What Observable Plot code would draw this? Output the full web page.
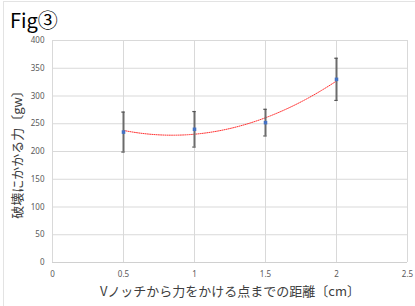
<!DOCTYPE html>
<html>
<head>
<meta charset="utf-8">
<script src="https://cdn.jsdelivr.net/npm/d3@7"></script>
<script src="https://cdn.jsdelivr.net/npm/@observablehq/plot@0.6"></script>
<style>
  body { margin: 0; background: #fff; }
  #wrap { position: relative; width: 415px; height: 306px; overflow: hidden; background: #fff; }
  #frame { position: absolute; left: 3px; top: 1px; width: 420px; height: 310px; border: 1px solid #e3e3e3; box-sizing: border-box; }
  #title { position: absolute; left: 10px; top: 8px; font: 20px "Noto Sans CJK JP", "Noto Sans", sans-serif; color: #000; line-height: 24px; z-index: 2; }
  svg { position: absolute; left: 0; top: 0; z-index: 1; }
</style>
</head>
<body>
<div id="wrap">
  <div id="frame"></div>
  <div id="title"></div>
</div>
<script>
const titleText = "Fig③";
const xLabel = "Vノッチから力をかける点までの距離〔cm〕";
const yLabel = "破壊にかかる力〔gw〕";
const distances = [0.5, 1, 1.5, 2];
const forces = [235, 240, 252, 330];
const errors = [36, 32, 24, 38];
const xTicks = [0, 0.5, 1, 1.5, 2, 2.5];
const yTicks = [0, 50, 100, 150, 200, 250, 300, 350, 400];

document.getElementById("title").textContent = titleText;

const data = distances.map((x, i) => ({x, y: forces[i], lo: forces[i] - errors[i], hi: forces[i] + errors[i]}));

// Quadratic least-squares trendline (like Excel's polynomial order 2)
function polyfit2(xs, ys) {
  let n = xs.length, sx=0, sx2=0, sx3=0, sx4=0, sy=0, sxy=0, sx2y=0;
  for (let i = 0; i < n; i++) {
    const x = xs[i], y = ys[i];
    sx += x; sx2 += x*x; sx3 += x*x*x; sx4 += x*x*x*x;
    sy += y; sxy += x*y; sx2y += x*x*y;
  }
  const A = [[n, sx, sx2, sy],[sx, sx2, sx3, sxy],[sx2, sx3, sx4, sx2y]];
  for (let i = 0; i < 3; i++) {
    for (let k = i+1; k < 3; k++) {
      const f = A[k][i] / A[i][i];
      for (let j = i; j < 4; j++) A[k][j] -= f * A[i][j];
    }
  }
  const c = [0,0,0];
  for (let i = 2; i >= 0; i--) {
    let s = A[i][3];
    for (let j = i+1; j < 3; j++) s -= A[i][j] * c[j];
    c[i] = s / A[i][i];
  }
  return c;
}
const coef = polyfit2(distances, forces);
const trend = d3.range(0, 101).map(i => {
  const x = distances[0] + (distances[distances.length-1] - distances[0]) * i / 100;
  return {x, y: coef[0] + coef[1]*x + coef[2]*x*x};
});

const font = '"Noto Sans", "Open Sans", sans-serif';
const cap = 0.012;

const chart = Plot.plot({
  width: 415,
  height: 306,
  marginLeft: 52,
  marginRight: 8,
  marginTop: 40,
  marginBottom: 44,
  style: {fontFamily: font, fontSize: "8px", color: "#595959", background: "transparent"},
  x: {domain: [0, 2.5], ticks: xTicks, tickSize: 0, tickPadding: 9, label: null, tickFormat: d => String(d)},
  y: {domain: [0, 400], ticks: yTicks, tickSize: 0, tickPadding: 8, label: null},
  marks: [
    Plot.gridX(xTicks, {stroke: "#d9d9d9", strokeOpacity: 1, strokeWidth: 1}),
    Plot.gridY(yTicks, {stroke: "#d9d9d9", strokeOpacity: 1, strokeWidth: 1}),
    Plot.ruleY([0], {stroke: "#d0d0d0", strokeWidth: 1}),
    Plot.line(trend, {x: "x", y: "y", stroke: "#ff0000", strokeWidth: 1, strokeDasharray: "1,1.2", strokeOpacity: 0.8}),
    Plot.ruleX(data, {x: "x", y1: "lo", y2: "hi", stroke: "#6b6b6b", strokeWidth: 2}),
    Plot.ruleY(data, {y: "hi", x1: d => d.x - cap, x2: d => d.x + cap, stroke: "#555", strokeWidth: 1.2}),
    Plot.ruleY(data, {y: "lo", x1: d => d.x - cap, x2: d => d.x + cap, stroke: "#555", strokeWidth: 1.2}),
    Plot.dot(data, {x: "x", y: "y", r: 2, fill: "#4472c4", stroke: "none", symbol: "square"}),
    Plot.axisX(xTicks, {tickSize: 0, tickPadding: 9, label: null, fontSize: 8, fill: "#595959", tickFormat: d => String(d)}),
    Plot.axisY(yTicks, {tickSize: 0, tickPadding: 8, label: null, fontSize: 8, fill: "#595959"}),
    Plot.text([xLabel], {frameAnchor: "bottom", dy: 33, fontSize: 13, fill: "#404040", fontFamily: '"Noto Sans CJK JP", sans-serif'}),
    Plot.text([yLabel], {frameAnchor: "left", dx: -35, rotate: -90, textAnchor: "middle", fontSize: 13, fill: "#404040", fontFamily: '"Noto Sans CJK JP", sans-serif'})
  ]
});
document.getElementById("wrap").appendChild(chart);
</script>
</body>
</html>
